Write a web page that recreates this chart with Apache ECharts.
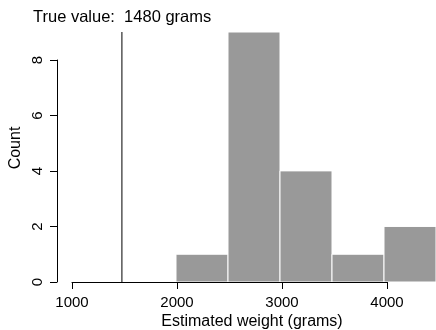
<!DOCTYPE html>
<html>
<head>
<meta charset="utf-8">
<script src="https://cdn.jsdelivr.net/npm/echarts@6/dist/echarts.min.js"></script>
<style>html,body{margin:0;padding:0;background:#fff}#c{width:436px;height:330px}</style>
</head>
<body>
<div id="c"></div>
<script>
// Data
const binStarts = [2000, 2500, 3000, 3500, 4000];
const binEnds = [2500, 3000, 3500, 4000, 4500];
const counts = [1, 9, 4, 1, 2];
const trueValue = 1480;
const titleText = 'True value:  1480 grams';
const xTitle = 'Estimated weight (grams)';
const yTitle = 'Count';
const xTickMin = 1000, xTickMax = 4000, xTickStep = 1000;
const yTickMin = 0, yTickMax = 8, yTickStep = 2;

const FONT = 'Liberation Sans, Arial, Helvetica, sans-serif';
const chart = echarts.init(document.getElementById('c'), null, {renderer: 'canvas'});

const histData = binStarts.map((s, i) => [s, binEnds[i], counts[i]]);

chart.setOption({
  animation: false,
  backgroundColor: '#ffffff',
  title: {
    text: titleText, left: 33, top: 9, padding: 0,
    textStyle: {fontFamily: FONT, fontSize: 16.5, fontWeight: 'normal', color: '#000'}
  },
  grid: [
    {left: 72, top: 32, height: 250, right: -3.5},
    {left: 72, top: 60, height: 222, width: 315}
  ],
  xAxis: [
    {gridIndex: 0, type: 'value', min: 1000, max: 4500, show: false},
    {gridIndex: 1, type: 'value', min: xTickMin, max: xTickMax, interval: xTickStep, z: 10,
     axisLine: {show: true, lineStyle: {color: '#000', width: 1}},
     axisTick: {show: true, length: 7, lineStyle: {color: '#000'}},
     splitLine: {show: false},
     axisLabel: {margin: 13, color: '#000', fontFamily: FONT, fontSize: 15, formatter: v => String(v)}}
  ],
  yAxis: [
    {gridIndex: 0, type: 'value', min: 0, max: 9, show: false},
    {gridIndex: 1, type: 'value', min: yTickMin, max: yTickMax, interval: yTickStep, offset: 15, z: 10,
     axisLine: {show: true, lineStyle: {color: '#000', width: 1}},
     axisTick: {show: true, length: 7, lineStyle: {color: '#000'}},
     splitLine: {show: false},
     axisLabel: {margin: 12, rotate: 90, color: '#000', fontFamily: FONT, fontSize: 15}}
  ],
  graphic: [
    {type: 'text', x: 252, y: 322, style: {text: xTitle, font: '16px ' + FONT, fill: '#000', textAlign: 'center', textVerticalAlign: 'middle'}},
    {type: 'text', x: 16, y: 148, rotation: Math.PI / 2, style: {text: yTitle, font: '16px ' + FONT, fill: '#000', textAlign: 'center', textVerticalAlign: 'middle'}}
  ],
  series: [
    {
      type: 'custom', xAxisIndex: 0, yAxisIndex: 0, data: histData,
      renderItem: function (params, api) {
        const p0 = api.coord([api.value(0), api.value(2)]);
        const p1 = api.coord([api.value(1), 0]);
        return {type: 'rect', shape: {x: p0[0], y: p0[1], width: p1[0] - p0[0], height: p1[1] - p0[1]},
                style: {fill: '#999999', stroke: '#ffffff', lineWidth: 1}};
      }
    },
    {
      type: 'line', xAxisIndex: 0, yAxisIndex: 0, symbol: 'none', z: 5,
      data: [[trueValue, 0], [trueValue, 9]],
      lineStyle: {color: '#000', width: 1}
    }
  ]
});
</script>
</body>
</html>
